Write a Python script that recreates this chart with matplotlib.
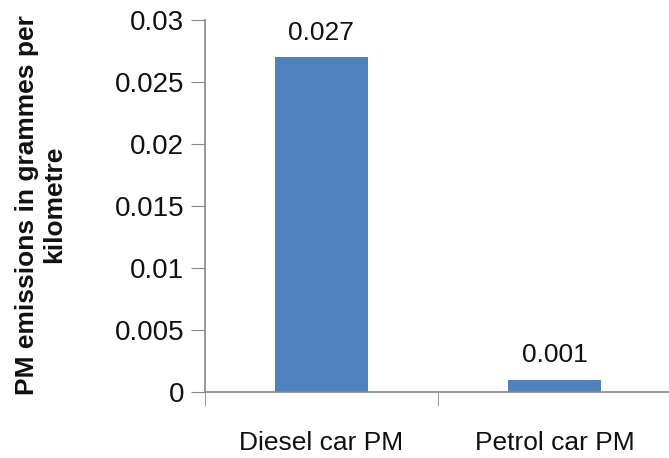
import matplotlib
matplotlib.use("Agg")
import matplotlib.pyplot as plt

categories = ["Diesel car PM", "Petrol car PM"]
values = [0.027, 0.001]
value_labels = ["0.027", "0.001"]
yticks = [0, 0.005, 0.01, 0.015, 0.02, 0.025, 0.03]
ytick_labels = ["0", "0.005", "0.01", "0.015", "0.02", "0.025", "0.03"]

plt.rcParams["font.family"] = ["Liberation Sans", "DejaVu Sans"]

fig = plt.figure(figsize=(6.69, 4.58), dpi=100)
ax = fig.add_axes([0.3064, 0.1441, 0.6966, 0.8122])

xs = list(range(len(categories)))
ax.bar(xs, values, width=0.4, color="#4F81BD", zorder=2)

for x, v, lab in zip(xs, values, value_labels):
    ax.annotate(lab, (x, v), xytext=(0, 9), textcoords="offset points",
                ha="center", va="bottom", fontsize=19, color="#111111")

ax.set_xlim(-0.5, 1.5)
ax.set_ylim(0, 0.03)
ax.set_yticks(yticks)
ax.set_yticklabels(ytick_labels, fontsize=20, color="#111111")
ax.set_xticks(xs)
ax.set_xticklabels(categories, fontsize=19, color="#111111")
ax.tick_params(axis="x", length=0, pad=28)
ax.set_xticks([-0.5, 0.5, 1.5], minor=True)
ax.tick_params(axis="x", which="minor", length=10, color="#888888", direction="out")
ax.tick_params(axis="y", length=10, color="#888888", pad=5)

for s in ["top", "right"]:
    ax.spines[s].set_visible(False)
for s in ["left", "bottom"]:
    ax.spines[s].set_color("#888888")
    ax.spines[s].set_linewidth(1.2)

fig.text(0.061, 0.553, "PM emissions in grammes per\nkilometre", rotation=90,
         ha="center", va="center", multialignment="center",
         fontsize=19, fontweight="bold", linespacing=1.15, color="#111111")

fig.savefig("out.png", dpi=100)
